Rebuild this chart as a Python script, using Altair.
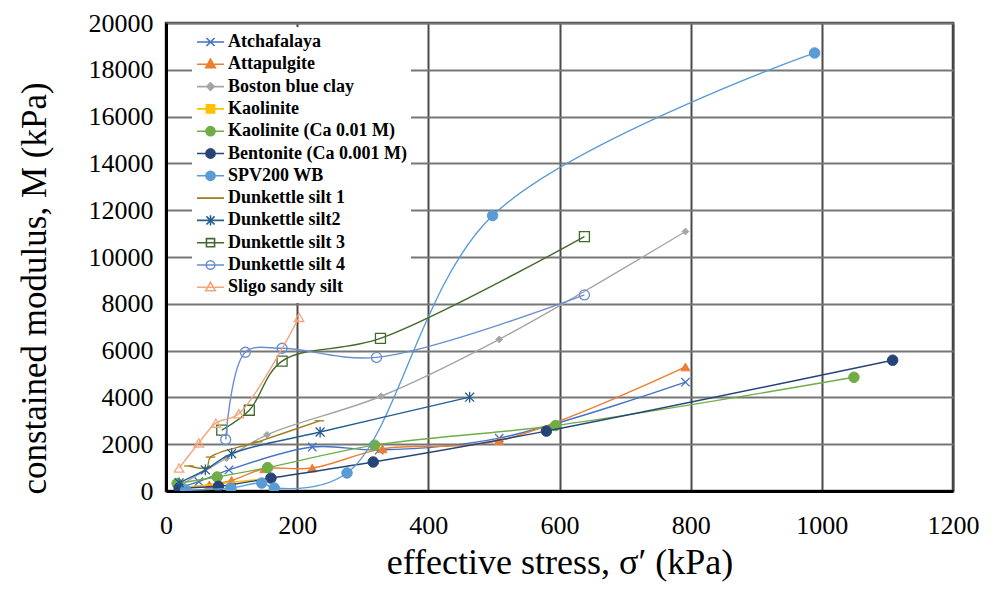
import altair as alt
import pandas as pd

# ---------------- data ----------------
names = ["Atchafalaya", "Attapulgite", "Boston blue clay", "Kaolinite",
         "Kaolinite (Ca 0.01 M)", "Bentonite (Ca 0.001 M)", "SPV200 WB",
         "Dunkettle silt 1", "Dunkettle silt2", "Dunkettle silt 3",
         "Dunkettle silt 4", "Sligo sandy silt"]

atch_x = [20, 50, 96, 223, 325, 508, 792]
atch_y = [150, 400, 900, 1880, 1750, 2260, 4650]

atta_x = [25, 66, 100, 150, 223, 330, 508, 792]
atta_y = [150, 260, 450, 950, 980, 1800, 2150, 5300]

bbc_x = [25, 92, 154, 328, 508, 792]
bbc_y = [300, 1400, 2400, 4050, 6480, 11090]

kao_x = [20, 160]
kao_y = [130, 550]

kaoca_x = [17, 78, 155, 318, 594, 1049]
kaoca_y = [320, 600, 1000, 1960, 2800, 4860]

bent_x = [20, 80, 160, 316, 580, 1108]
bent_y = [130, 200, 550, 1240, 2560, 5590]

spv_x = [30, 99, 146, 165, 276, 498, 989]
spv_y = [40, 130, 340, 130, 770, 11770, 18720]

dk1_x = [35, 62, 68, 140, 234]
dk1_y = [1070, 1000, 1450, 2100, 3000]

dk2_x = [20, 60, 100, 235, 463]
dk2_y = [350, 900, 1600, 2520, 4010]

dk3_x = [85, 127, 177, 327, 638]
dk3_y = [2600, 3450, 5550, 6520, 10870]

dk4_x = [91, 121, 177, 321, 638]
dk4_y = [2200, 5930, 6100, 5710, 8380]

sligo_x = [20, 50, 76, 111, 203]
sligo_y = [980, 2050, 2900, 3300, 7420]

xs = [atch_x, atta_x, bbc_x, kao_x, kaoca_x, bent_x, spv_x, dk1_x, dk2_x, dk3_x, dk4_x, sligo_x]
ys = [atch_y, atta_y, bbc_y, kao_y, kaoca_y, bent_y, spv_y, dk1_y, dk2_y, dk3_y, dk4_y, sligo_y]

x_ticks = [0, 200, 400, 600, 800, 1000, 1200]
y_ticks = [0, 2000, 4000, 6000, 8000, 10000, 12000, 14000, 16000, 18000, 20000]

# ---------------- styles ----------------
colors = ["#4472C4", "#ED7D31", "#A5A5A5", "#FFC000", "#70AD47", "#264478",
          "#5B9BD5", "#9E7E1A", "#255E91", "#43682B", "#698ED0", "#F4A57A"]

XMARK = "M-1,-1L1,1M-1,1L1,-1"
AST = "M-1,-1L1,1M-1,1L1,-1M0,-1.2L0,1.2"
DASH = "M-1,0H1"
plot_shapes = [XMARK, "triangle-up", "diamond", "square", "circle", "circle",
               "circle", DASH, AST, "square", "circle", "triangle-up"]
plot_sizes = [70, 80, 45, 45, 110, 110, 110, 90, 80, 100, 100, 90]
plot_filled = [False, True, True, True, True, True, True, False, False, False, False, False]

L = "M-1,0H1"
legend_paths = [
    L + "M-0.3,-0.3L0.3,0.3M-0.3,0.3L0.3,-0.3",
    L + "M0,-0.38L0.36,0.26L-0.36,0.26Z",
    L + "M0,-0.28L0.28,0L0,0.28L-0.28,0Z",
    L + "M-0.3,-0.3H0.3V0.3H-0.3Z",
    L + "M0.34,0A0.34,0.34,0,1,1,-0.34,0A0.34,0.34,0,1,1,0.34,0Z",
    L + "M0.34,0A0.34,0.34,0,1,1,-0.34,0A0.34,0.34,0,1,1,0.34,0Z",
    L + "M0.34,0A0.34,0.34,0,1,1,-0.34,0A0.34,0.34,0,1,1,0.34,0Z",
    L + "M-0.4,0H0.4",
    L + "M-0.3,-0.3L0.3,0.3M-0.3,0.3L0.3,-0.3M0,-0.38V0.38",
    L + "M-0.3,-0.3H0.3V0.3H-0.3Z",
    L + "M0.32,0A0.32,0.32,0,1,1,-0.32,0A0.32,0.32,0,1,1,0.32,0Z",
    L + "M0,-0.38L0.36,0.26L-0.36,0.26Z",
]
legend_fills = [c if f else "white" for c, f in zip(colors, plot_filled)]

rows = []
for name, sx, sy in zip(names, xs, ys):
    for k, (a, b) in enumerate(zip(sx, sy)):
        rows.append({"series": name, "x": a, "y": b, "ord": k})
df = pd.DataFrame(rows)

FONT = "Liberation Serif"

xaxis = alt.Axis(values=x_ticks, format="d", title="effective stress, σ′ (kPa)",
                 labelFont=FONT, labelFontSize=26, labelColor="black",
                 titleFont=FONT, titleFontSize=36, titleFontWeight="normal",
                 titleColor="black", labelPadding=21, titleY=54,
                 tickSize=0, domainColor="black", domainWidth=3,
                 gridColor="#4a4a4a", gridWidth=2, labelFlush=False,
                 labelOverlap=False)
yaxis = alt.Axis(values=y_ticks, format="d", title="constained modulus, M (kPa)",
                 labelFont=FONT, labelFontSize=26, labelColor="black",
                 titleFont=FONT, titleFontSize=35, titleFontWeight="normal",
                 titleColor="black", labelPadding=13, titleX=-114, titleY=265,
                 tickSize=0, domainColor="black", domainWidth=3,
                 gridColor="#767676", gridWidth=2, labelFlush=False,
                 labelOverlap=False)

X = alt.X("x:Q", scale=alt.Scale(domain=[0, 1200], nice=False), axis=xaxis)
Y = alt.Y("y:Q", scale=alt.Scale(domain=[0, 20000], nice=False), axis=yaxis)

layers = []
for i, name in enumerate(names):
    base = alt.Chart(df).transform_filter(alt.datum.series == name)
    line = base.mark_line(interpolate="catmull-rom", stroke=colors[i],
                          strokeWidth=1.4, clip=True).encode(x=X, y=Y, order="ord:Q")
    if plot_filled[i]:
        pt = base.mark_point(shape=plot_shapes[i], size=plot_sizes[i], filled=True,
                             fill=colors[i], stroke=colors[i], strokeWidth=1,
                             opacity=1, clip=True).encode(x=X, y=Y)
    else:
        pt = base.mark_point(shape=plot_shapes[i], size=plot_sizes[i], filled=False,
                             stroke=colors[i], strokeWidth=1.3,
                             opacity=1, clip=True).encode(x=X, y=Y)
    layers += [line, pt]

leg = alt.Legend(title=None, orient="none", legendX=26, legendY=4,
                 labelFont=FONT, labelFontWeight="bold", labelFontSize=18,
                 labelColor="black", symbolSize=729, symbolStrokeWidth=1.6,
                 labelOffset=3, fillColor="white", padding=4, rowPadding=0.3,
                 clipHeight=22, labelLimit=400, zindex=1)

legend_layer = alt.Chart(df).mark_point(size=0, filled=True, opacity=1, clip=True).encode(
    x=X, y=Y,
    shape=alt.Shape("series:N", scale=alt.Scale(domain=names, range=legend_paths), legend=leg),
    fill=alt.Fill("series:N", scale=alt.Scale(domain=names, range=legend_fills), legend=leg),
    stroke=alt.Stroke("series:N", scale=alt.Scale(domain=names, range=colors), legend=leg),
)
layers.append(legend_layer)

chart = alt.layer(*layers).properties(
    width=787, height=468,
    autosize=alt.AutoSizeParams(type="none"),
    padding={"left": 158, "top": 15, "right": 33, "bottom": 91},
).configure_view(stroke="#3a3a3a", strokeWidth=2.5)

chart.save("out.html", embed_options={"renderer": "svg", "actions": False})
